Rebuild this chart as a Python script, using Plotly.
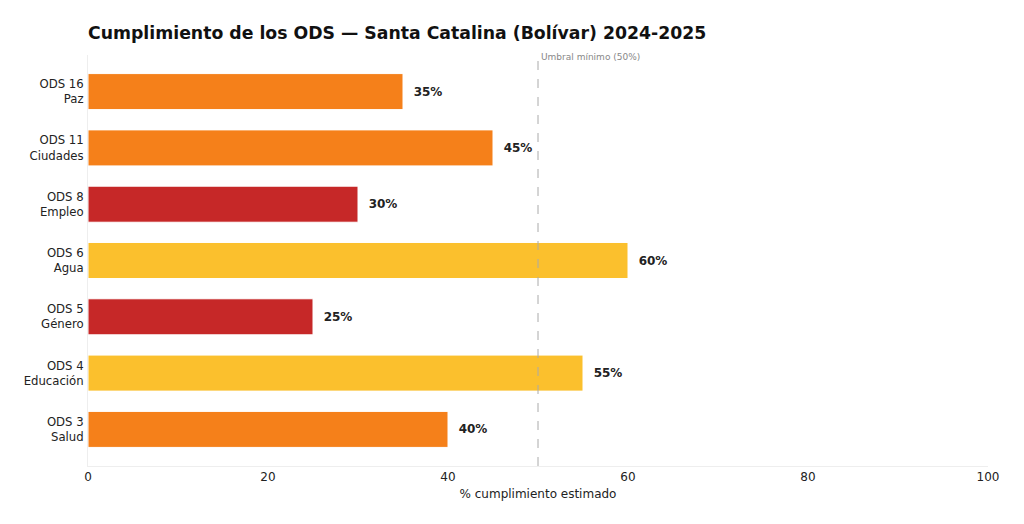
import plotly.graph_objects as go

# datos de cumplimiento (de abajo hacia arriba)
categorias = ['ODS 3<br>Salud', 'ODS 4<br>Educación', 'ODS 5<br>Género', 'ODS 6<br>Agua',
              'ODS 8<br>Empleo', 'ODS 11<br>Ciudades', 'ODS 16<br>Paz']
valores = [40, 55, 25, 60, 30, 45, 35]
colores = ['#F5801A', '#FBC02D', '#C62828', '#FBC02D', '#C62828', '#F5801A', '#F5801A']
umbral = 50

fig = go.Figure(go.Bar(
    x=valores, y=categorias, orientation='h',
    marker=dict(color=colores, line=dict(color='white', width=1)),
    width=0.64,
    text=[f'\u00a0\u00a0<b>{v}%</b>' for v in valores], textposition='outside',
    textfont=dict(size=12, color='#222222'), cliponaxis=False,
))

fig.add_vline(x=umbral, line=dict(color='#aaaaaa', width=1, dash='dash'))
fig.add_annotation(x=umbral, y=1, xref='x', yref='paper', text='Umbral mínimo (50%)',
                   showarrow=False, xanchor='left', yanchor='middle', xshift=1, yshift=-2,
                   font=dict(size=9, color='#888888'))

# el navegador desplaza la figura 8px (margen del body), se compensa aquí
fig.update_layout(
    width=1024, height=524,
    paper_bgcolor='white', plot_bgcolor='white',
    font=dict(family='DejaVu Sans', size=12, color='#222222'),
    title=dict(text='<b>Cumplimiento de los ODS — Santa Catalina (Bolívar) 2024-2025</b>',
               x=80 / 1024, xanchor='left', y=1 - 25 / 524, yanchor='middle',
               font=dict(size=17.3, color='#111111')),
    margin=dict(l=80, r=44, t=47, b=66),
    showlegend=False,
)
fig.update_xaxes(range=[0, 100], dtick=20, showgrid=False, zeroline=False,
                 showline=True, linecolor='#eeeeee', linewidth=1, ticks='',
                 title=dict(text='% cumplimiento estimado', font=dict(size=12), standoff=6))
fig.update_yaxes(range=[-0.65, len(categorias) - 0.35], showgrid=False, showline=True,
                 linecolor='#eeeeee', linewidth=1, ticks='', ticklabelstandoff=1,
                 tickfont=dict(size=11.7))

fig.write_html('out.html')
